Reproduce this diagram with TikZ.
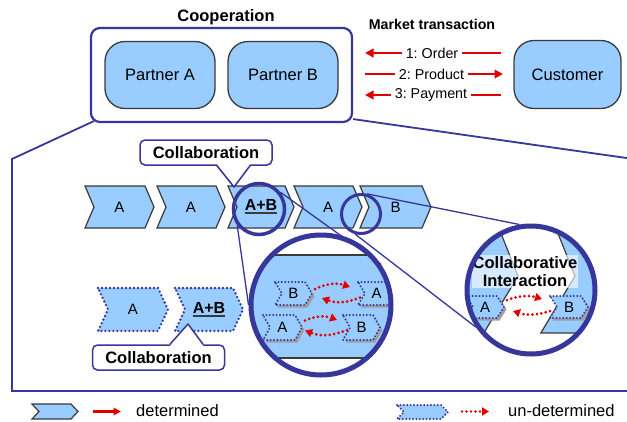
\documentclass[tikz,border=0pt]{standalone}
\usepackage{fontspec}
\setmainfont{Liberation Sans}
\usetikzlibrary{arrows.meta,calc}
\frenchspacing
\definecolor{lblue}{HTML}{99CCFF}
\definecolor{navy}{RGB}{55,55,155}
\definecolor{bgray}{HTML}{3A3A3A}
\definecolor{rred}{HTML}{E00000}
\newcommand\chevpath[5]{(#1,#3) -- ({#2-#5},#3) -- (#2,{(#3+#4)/2}) -- ({#2-#5},#4) -- (#1,#4) -- ({#1+#5},{(#3+#4)/2}) -- cycle}
\newcommand\chev[8]{%
  \path[#1] \chevpath{#3}{#4}{#5}{#6}{#7};
  \node[chevlbl, minimum width={#4-#3}, minimum height={#6-#5}] (#2) at ({(#3+#4)/2},{(#5+#6)/2}) {#8};}
\newcommand\schev[7]{%
  \begin{scope}[shift={(2.5,2.5)}]\path[fill=gray!75] \chevpath{#2}{#3}{#4}{#5}{#6};\end{scope}
  \chev{dotsmall}{#1}{#2}{#3}{#4}{#5}{#6}{#7}}
\newcommand\thul[1]{\setbox0=\hbox{#1}\rlap{\color{bgray}\rule[-3.5pt]{\wd0}{1.8pt}}\box0}
\newcommand\abtext{\bfseries\fontsize{16}{18}\selectfont\thul{A+B}}
\begin{document}
\begin{tikzpicture}[x=1pt,y=-1pt,
  chevlbl/.style={inner sep=0pt, outer sep=0pt, font=\fontsize{15}{17}\selectfont},
  solchev/.style={fill=lblue, draw=bgray, line width=1.2pt, line join=miter},
  dotchev/.style={fill=lblue, draw=navy, line width=2.6pt, dash pattern=on 0pt off 4pt, line cap=round},
  dotsmall/.style={fill=lblue, draw=navy, line width=2.2pt, dash pattern=on 0pt off 3.4pt, line cap=round},
  pbox/.style={rectangle, rounded corners=20pt, draw=bgray, line width=1.3pt, fill=lblue, minimum height=67, font=\fontsize{16.5}{19}\selectfont},
  mlbl/.style={inner sep=3.5pt, font=\fontsize{14.3}{17}\selectfont},
  rline/.style={draw=rred, line width=2.8pt},
  rtip/.style={-{Triangle[length=8.5pt,width=8.5pt]}},
  rdot/.style={draw=rred, line width=3pt, dash pattern=on 0pt off 4.5pt, line cap=round, -{Triangle[length=7pt,width=8pt]}},
  callout/.style={draw=navy, line width=1.5pt, fill=white, rounded corners=5pt, minimum width=132, minimum height=25, inner sep=0pt, font=\bfseries\fontsize{16.5}{19}\selectfont},
  magline/.style={draw=navy, line width=1.3pt},
  framel/.style={draw=navy, line width=1.8pt}
]
\useasboundingbox (0,0) rectangle (627,421);
\fill[white] (0,0) rectangle (627,421);

% ---- top part
\node[font=\bfseries\fontsize{16.5}{19}\selectfont] (cooplbl) at (226,17) {Cooperation};
\node[draw=navy, line width=2.2pt, rounded corners=9pt, minimum width=261, minimum height=94, fill=white] (coop) at (221.5,75) {};
\node[pbox, minimum width=110] (pa) at (160,75) {Partner A};
\node[pbox, minimum width=110] (pb) at (283,75) {Partner B};
\node[pbox, minimum width=107, minimum height=68] (cust) at (567.5,74.5) {Customer};
\node[font=\bfseries\fontsize{14.2}{17}\selectfont] (mkt) at (432,24) {Market transaction};
\node[mlbl] (t1) at (432,53) {1: Order};
\node[mlbl] (t2) at (431.5,74) {2: Product};
\node[mlbl] (t3) at (431,95) {3: Payment};
\coordinate (l1) at (365,53); \coordinate (r1) at (501,53);
\coordinate (l2) at (365,74); \coordinate (r2) at (503,74);
\coordinate (l3) at (365,95); \coordinate (r3) at (501,95);
\draw[rline] (r1) -- (t1.east);
\draw[rline, rtip] (t1.west) -- (l1);
\draw[rline] (l2) -- (t2.west);
\draw[rline, rtip] (t2.east) -- (r2);
\draw[rline] (r3) -- (t3.east);
\draw[rline, rtip] (t3.west) -- (l3);

% ---- frame
\coordinate (fTL) at (12,159);
\coordinate (fBL) at (12,391);
\coordinate (fBR) at (630,391);
\coordinate (fTR) at (630,158.5);
\draw[framel] ([shift={(4,-2)}]coop.south west) -- (fTL) -- (fBL) -- (fBR);
\draw[framel] ([shift={(0,-4)}]coop.south east) -- (fTR);

% ---- chevron row
\chev{solchev}{c1}{85}{154}{186}{228}{9}{A}
\chev{solchev}{c2}{157}{225}{186}{228}{9}{A}
\chev{solchev}{c3}{228}{294}{186}{228}{9}{\abtext}
\chev{solchev}{c4}{294}{362}{186}{228}{9}{A}
\chev{solchev}{c5}{360}{431}{186}{228}{9}{B}

% ---- lower left dotted chevrons
\chev{dotchev}{d1}{98}{168}{288}{331}{10}{A}
\chev{dotchev}{d2}{175}{243}{288}{331}{10}{\abtext}

% ---- big circle 1
\begin{scope}
  \clip (321,305) circle[radius=70pt];
  \fill[white] (321,305) circle[radius=70pt];
  \path[fill=lblue, draw=bgray, line width=1.2pt] (230,255) rectangle (410,358);
  \schev{B1}{275}{312}{282}{305}{7}{B}
  \schev{A1}{358}{395}{282}{305}{7}{A}
  \schev{A2}{263}{302}{315}{340}{7}{A}
  \schev{B2}{343}{380}{315}{340}{7}{B}
  \draw[rdot] ([shift={(3,-4.5)}]B1.east) to[bend left=22] ([shift={(-8,-6.5)}]A1.west);
  \draw[rdot] ([shift={(2,4)}]A1.west) to[bend left=22] ([shift={(10,4.5)}]B1.east);
  \draw[rdot] ([shift={(3,-7)}]A2.east) to[bend left=22] ([shift={(-6,-7.5)}]B2.west);
  \draw[rdot] ([shift={(4,2.5)}]B2.west) to[bend left=22] ([shift={(3,3)}]A2.east);
\end{scope}
\node[circle, draw=navy, line width=5pt, minimum size=140] (big1) at (321,305) {};

% ---- big circle 2
\begin{scope}
  \clip (531,290) circle[radius=64pt];
  \fill[white] (531,290) circle[radius=64pt];
  \fill[lblue] (450,200) -- (487.6,200) -- (518,276) -- (483.8,333) -- (450,333) -- cycle;
  \fill[lblue] (544.6,200) -- (620,200) -- (620,333) -- (540.8,333) -- (575,276) -- cycle;
  \draw[bgray, line width=1.2pt] (487.6,200) -- (518,276) -- (483.8,333) -- (450,333);
  \draw[bgray, line width=1.2pt] (544.6,200) -- (575,276) -- (540.8,333) -- (620,333);
  \node[fill=white, fill opacity=0.6, text opacity=1, minimum width=106, minimum height=33, inner sep=0pt, align=center, font=\bfseries\fontsize{16.5}{18}\selectfont] (cilbl) at (525,271.5) {Collaborative\\Interaction};
  \schev{A3}{466}{504}{296}{318}{7}{A}
  \schev{B3}{550}{588}{296}{318}{7}{B}
  \draw[rdot] ([shift={(3,-7)}]A3.east) to[bend left=18] ([shift={(-8,-8)}]B3.west);
  \draw[rdot] ([shift={(0,4)}]B3.west) to[bend left=18] ([shift={(9,4)}]A3.east);
\end{scope}
\node[circle, draw=navy, line width=5pt, minimum size=128] (big2) at (531,290) {};

% ---- magnifier circles
\node[circle, draw=navy, line width=3.5pt, minimum size=51] (m1) at (259,209) {};
\node[circle, draw=navy, line width=3pt, minimum size=39] (m2) at (361,214) {};

% ---- magnifier lines
\draw[magline] (m1.217) -- (big1.180);
\draw[magline] (m1.38) -- (big1.34);
\draw[magline] (m2.74) -- (big2.100);
\draw[magline] (m2.254) -- (big2.214);

% ---- callouts
\node[callout] (col1) at (206,152.5) {Collaboration};
\coordinate (tip1) at (234,187);
\fill[white] ([shift={(11,-1.6)}]col1.south) -- (tip1) -- ([shift={(44,-1.6)}]col1.south) -- cycle;
\draw[navy, line width=1.5pt, line join=round] ([xshift=11]col1.south) -- (tip1) -- ([xshift=44]col1.south);

\node[callout] (col2) at (158.5,357.5) {Collaboration};
\coordinate (tip2) at (188,324);
\fill[white] ([shift={(11.5,1.6)}]col2.north) -- (tip2) -- ([shift={(44.5,1.6)}]col2.north) -- cycle;
\draw[navy, line width=1.5pt, line join=round] ([xshift=11.5]col2.north) -- (tip2) -- ([xshift=44.5]col2.north);

% ---- legend
\chev{solchev}{lg1}{32}{78}{404}{419}{7}{}
\coordinate (la1) at (93,411.5); \coordinate (la2) at (121,411.5);
\draw[rline, line width=2.5pt, -{Triangle[length=7.5pt,width=7.5pt]}] (la1) -- (la2);
\node[anchor=west, inner sep=0pt, font=\fontsize{16.5}{19}\selectfont] (lt1) at (136,411) {determined};
\chev{dotsmall}{lg2}{397}{448}{405}{419}{7}{}
\coordinate (lb1) at (462,411.5); \coordinate (lb2) at (489,411.5);
\draw[rdot, line width=2.6pt] (lb1) -- (lb2);
\node[anchor=west, inner sep=0pt, font=\fontsize{16.5}{19}\selectfont] (lt2) at (508,411) {un-determined};
\end{tikzpicture}
\end{document}
